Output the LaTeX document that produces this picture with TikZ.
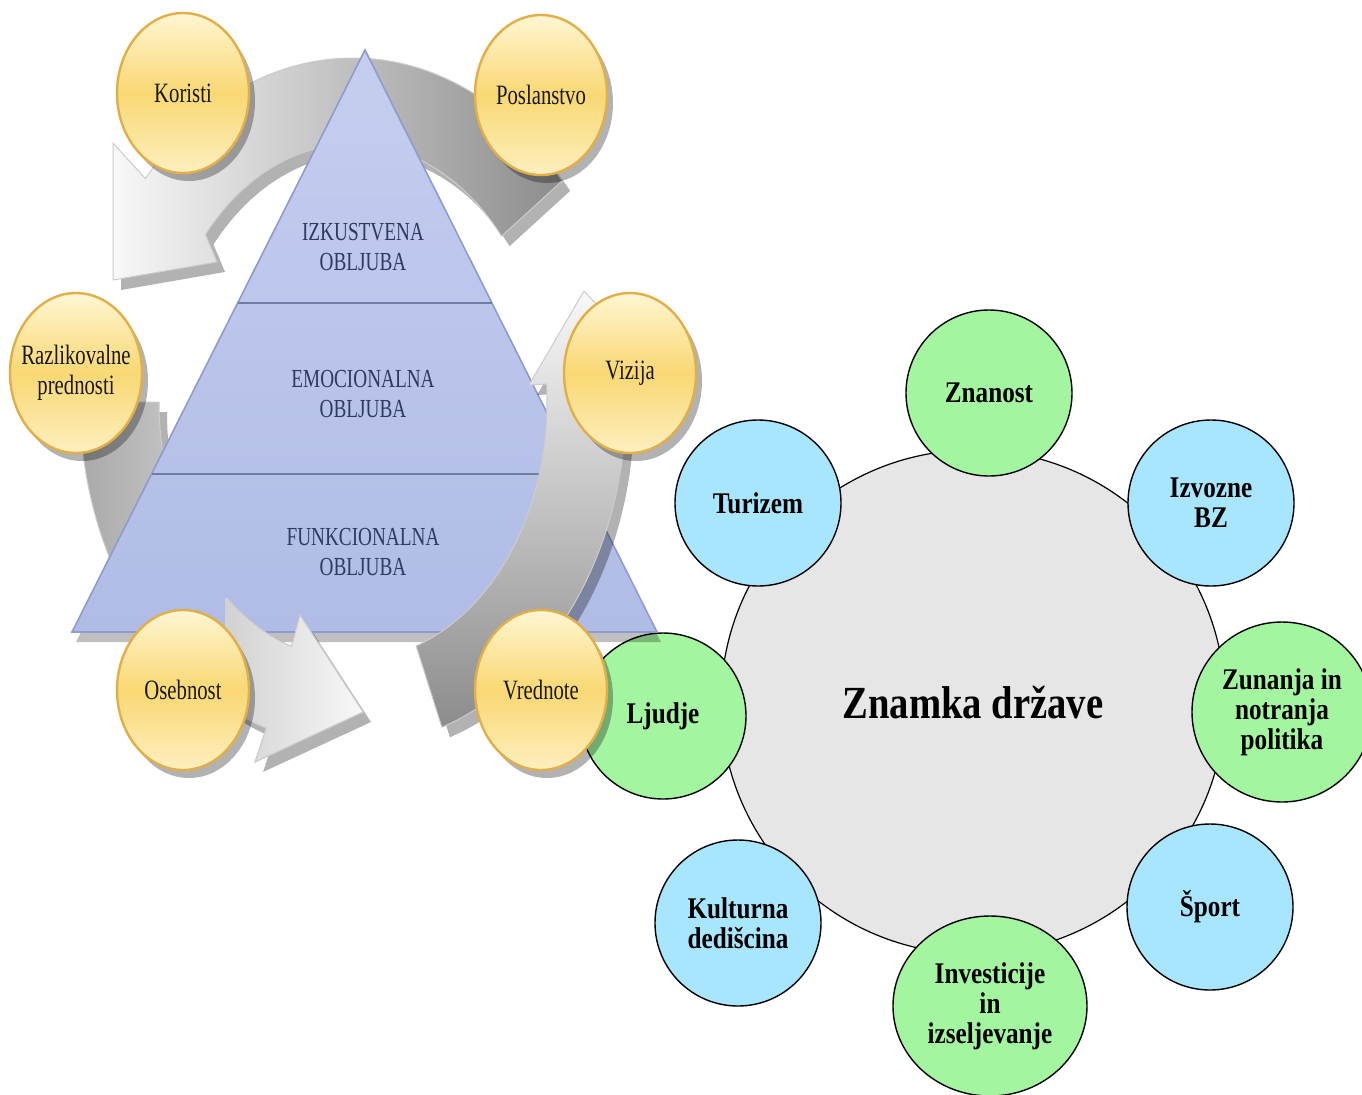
\documentclass[tikz,border=0pt]{standalone}
\usepackage{fontspec}
\setmainfont{Liberation Serif}
\newfontfamily\eggfont[FakeStretch=0.74]{Liberation Serif}
\newfontfamily\bubfont[FakeStretch=0.84]{Liberation Serif}
\usetikzlibrary{shapes.geometric,shadows,calc}

\definecolor{eggedge}{HTML}{E2AE48}
\definecolor{eggtop}{HTML}{FFF6D2}
\definecolor{eggmid}{HTML}{F9D874}
\definecolor{eggbot}{HTML}{FDEFBE}
\definecolor{pyrtop}{HTML}{C6CEEF}
\definecolor{pyrbot}{HTML}{B0BCE6}
\definecolor{pyredge}{HTML}{8D9BCF}
\definecolor{pyrink}{HTML}{2E3A60}
\definecolor{bubgreen}{HTML}{A4F5A0}
\definecolor{bubblue}{HTML}{A7E6FE}
\definecolor{hubgray}{HTML}{E6E6E6}
\definecolor{arrdark}{HTML}{8C8C8C}
\definecolor{arrlight}{HTML}{F8F8F8}

% the lower arrow of the cycle, used twice
\newcommand{\lowarrow}{($(ring)+(180:273 and 344)$) arc[start angle=180,end angle=251.5,x radius=273,y radius=344]
  -- (255,-762) -- (363,-712) -- (300,-615)
  -- ($(ring)+(251.5:194 and 258)$) arc[start angle=251.5,end angle=180,x radius=194,y radius=258] -- cycle}

\begin{document}
\begin{tikzpicture}[x=0.5pt,y=0.5pt,
  egg/.style={ellipse,draw=eggedge,line width=1.2pt,top color=eggtop,bottom color=eggbot,middle color=eggmid,
    minimum width=66pt,minimum height=80pt,inner sep=0pt,
    drop shadow={shadow xshift=3pt,shadow yshift=-4pt,opacity=0.3,fill=black}},
  eggtext/.style={align=center,text=black!90,font=\eggfont\fontsize{14}{15}\selectfont},
  pyramid/.style={draw=pyredge,line width=0.8pt,top color=pyrtop,bottom color=pyrbot,
    drop shadow={shadow xshift=2pt,shadow yshift=-5pt,opacity=0.25,fill=black}},
  pyrline/.style={draw=pyredge!80!black,line width=0.7pt},
  pyrtext/.style={align=center,text=pyrink,font=\eggfont\fontsize{13}{15}\selectfont},
  cyclearrow/.style={draw=gray!40,line width=0.5pt},
  cycleshadow/.style={drop shadow={shadow xshift=4pt,shadow yshift=-5pt,opacity=0.3,fill=black}},
  hub/.style={circle,draw=black,line width=0.6pt,fill=hubgray,minimum size=252pt,inner sep=0pt,
    font=\bubfont\bfseries\fontsize{23}{25}\selectfont},
  bub/.style={ellipse,draw=black,line width=0.7pt,minimum width=83pt,minimum height=83pt,inner sep=0pt,
    align=center,font=\bubfont\bfseries\fontsize{15}{15}\selectfont},
  green bub/.style={bub,fill=bubgreen},
  blue bub/.style={bub,fill=bubblue}]
\useasboundingbox (0,0) rectangle (1362,-1094);

% brand of the state
\node[hub] (drzava) at (973,-702) {Znamka države};
\node[green bub] (znanost) at (989,-393) {Znanost};
\node[blue bub] (izvozne) at (1211,-503) {Izvozne\\BZ};
\node[green bub,minimum width=90pt,minimum height=90pt] (zunanja) at (1282,-712) {Zunanja in\\notranja\\politika};
\node[blue bub] (sport) at (1210,-907) {Šport};
\node[green bub,minimum width=97pt,minimum height=90pt] (investicije) at (990,-1006) {Investicije\\in\\izseljevanje};
\node[blue bub] (kulturna) at (738,-923) {Kulturna\\dedišcina};
\node[green bub] (ljudje) at (663,-716) {Ljudje};
\node[blue bub] (turizem) at (758,-503) {Turizem};

% cycle behind the pyramid
\coordinate (ring) at (353,-402);
\path[cyclearrow,cycleshadow,left color=arrlight,right color=arrdark]
  ($(ring)+(40:273 and 344)$) arc[start angle=40,end angle=139.5,x radius=273,y radius=344]
  -- (113,-143) -- (113,-280) -- (217,-262)
  -- ($(ring)+(139.5:194 and 258)$) arc[start angle=139.5,end angle=40,x radius=194,y radius=258] -- cycle;
\path[cyclearrow,cycleshadow,left color=arrdark!75,right color=arrlight] \lowarrow;

% pyramid
\coordinate (pyrL) at (72,-632);
\coordinate (pyrT) at (365,-50);
\coordinate (pyrR) at (657,-632);
\path[pyramid] (pyrL) -- (pyrT) -- (pyrR) -- cycle;
\draw[pyrline] ($(pyrL)!0.5653!(pyrT)$) -- ($(pyrR)!0.5653!(pyrT)$);
\draw[pyrline] ($(pyrL)!0.2715!(pyrT)$) -- ($(pyrR)!0.2715!(pyrT)$);
\node[pyrtext] (izkustvena) at (363,-247) {IZKUSTVENA\\OBLJUBA};
\node[pyrtext] (emocionalna) at (363,-394) {EMOCIONALNA\\OBLJUBA};
\node[pyrtext] (funkcionalna) at (363,-552) {FUNKCIONALNA\\OBLJUBA};

% cycle in front of the pyramid
\begin{scope}
  \clip (225,-598) rectangle (400,-800);
  \path[cyclearrow,left color=arrdark!75,right color=arrlight] \lowarrow;
\end{scope}
\path[cyclearrow,cycleshadow,top color=arrlight,bottom color=arrdark]
  ($(ring)+(289:273 and 344)$) arc[start angle=289,end angle=364,x radius=273,y radius=344]
  -- (663,-375) -- (584,-291) -- (529,-385)
  -- ($(ring)+(364:194 and 258)$) arc[start angle=364,end angle=289,x radius=194,y radius=258] -- cycle;

% eggs
\node[egg] (koristi) at (183,-93) {};
\node[egg] (poslanstvo) at (541,-95) {};
\node[egg] (razlike) at (76,-373) {};
\node[egg] (vizija) at (630,-373) {};
\node[egg] (osebnost) at (183,-690) {};
\node[egg] (vrednote) at (541,-690) {};
\node[eggtext] (koristi text) at (koristi) {Koristi};
\node[eggtext] (poslanstvo text) at (poslanstvo) {Poslanstvo};
\node[eggtext] (razlike text) at (razlike) {Razlikovalne\\prednosti};
\node[eggtext] (vizija text) at (vizija) {Vizija};
\node[eggtext] (osebnost text) at (osebnost) {Osebnost};
\node[eggtext] (vrednote text) at (vrednote) {Vrednote};
\end{tikzpicture}
\end{document}
